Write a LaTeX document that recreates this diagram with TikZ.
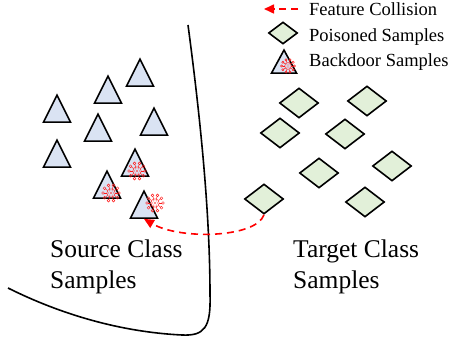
\documentclass[tikz,border=0pt]{standalone}
\usepackage{fontspec}
\setmainfont{Liberation Serif}
\usetikzlibrary{shapes.geometric,arrows.meta}
\definecolor{triblue}{HTML}{DAE3F3}
\definecolor{diagreen}{HTML}{E2F0D9}
\definecolor{virusred}{HTML}{FF1A1A}
\tikzset{
  tri/.style={draw=black, fill=triblue, line width=1.6pt, isosceles triangle,
    shape border rotate=90, isosceles triangle stretches, inner sep=0pt,
    minimum width=27pt, minimum height=27pt, anchor=apex},
  smalltri/.style={tri, minimum width=25pt, minimum height=23pt},
  dia/.style={draw=black, fill=diagreen, line width=1.6pt, diamond, inner sep=0pt,
    minimum width=39pt, minimum height=30pt},
  smalldia/.style={dia, minimum width=29pt, minimum height=22pt},
  collide/.style={draw=red, line width=1.6pt, dash pattern=on 7pt off 5pt,
    -{Triangle[length=10pt,width=9pt]}},
  caption/.style={font=\fontsize{25.5}{31}\selectfont, align=left, inner sep=0pt},
  legtext/.style={font=\fontsize{18.5}{22}\selectfont, anchor=base west, inner sep=0pt},
  virus/.pic={
    \begin{scope}[virusred, line width=0.45pt]
      \draw (0,0) circle (4.2pt);
      \fill (0,0) circle (0.9pt);
      \foreach \a in {0,60,...,300} \fill (\a:2.4pt) circle (0.5pt);
      \foreach \a in {0,36,...,324} {
        \draw (\a:4.2pt) -- (\a:6.6pt);
        \draw (\a:8pt) circle (1.4pt);
      }
    \end{scope}
  }
}
\begin{document}
\begin{tikzpicture}[x=1pt, y=-1pt]
\useasboundingbox (0,0) rectangle (454,344);

% class boundary
\coordinate (btop) at (188,25);
\coordinate (bend) at (8,288);
\draw[line width=1.6pt] (btop) .. controls (202,130) and (210,220) .. (210,295)
  .. controls (211,328) and (204,336) .. (182,335)
  .. controls (120,332) and (60,314) .. (bend);

% source class samples
\node[tri] (t1) at (140,57) {};
\node[tri] (t2) at (108,74) {};
\node[tri] (t3) at (57,93) {};
\node[tri] (t4) at (98,112) {};
\node[tri] (t5) at (154,106) {};
\node[tri] (t6) at (57,138) {};
\node[tri] (t7) at (135,147) {};
\node[tri] (t8) at (107,169) {};
\node[tri] (t9) at (144,189) {};
\pic at (137,171) {virus};
\pic at (111,193) {virus};
\pic at (155,203) {virus};

% target class samples
\node[dia] (d1) at (299,103) {};
\node[dia] (d2) at (367,101) {};
\node[dia] (d3) at (280,133) {};
\node[dia] (d4) at (345,134) {};
\node[dia] (d5) at (392,166) {};
\node[dia] (d6) at (319,173) {};
\node[dia] (d7) at (365,202) {};
\node[dia] (d8) at (264,199) {};

% feature collision
\draw[collide] (d8.south) .. controls (256,238) and (180,240) .. (t9.south);

% captions
\node[caption, anchor=north west] (src) at (50,240) {Source Class\\Samples};
\node[caption, anchor=north west] (tgt) at (293,240) {Target Class\\Samples};

% legend
\coordinate (la1) at (298,9);
\coordinate (la0) at (264,9);
\draw[collide] (la1) -- (la0);
\node[smalldia] (ld) at (283,33) {};
\node[smalltri] (lt) at (284,48) {};
\pic[scale=0.8] at (288,66) {virus};
\node[legtext] (l1) at (309,16) {Feature Collision};
\node[legtext] (l2) at (309,42) {Poisoned Samples};
\node[legtext] (l3) at (309,67) {Backdoor Samples};
\end{tikzpicture}
\end{document}
